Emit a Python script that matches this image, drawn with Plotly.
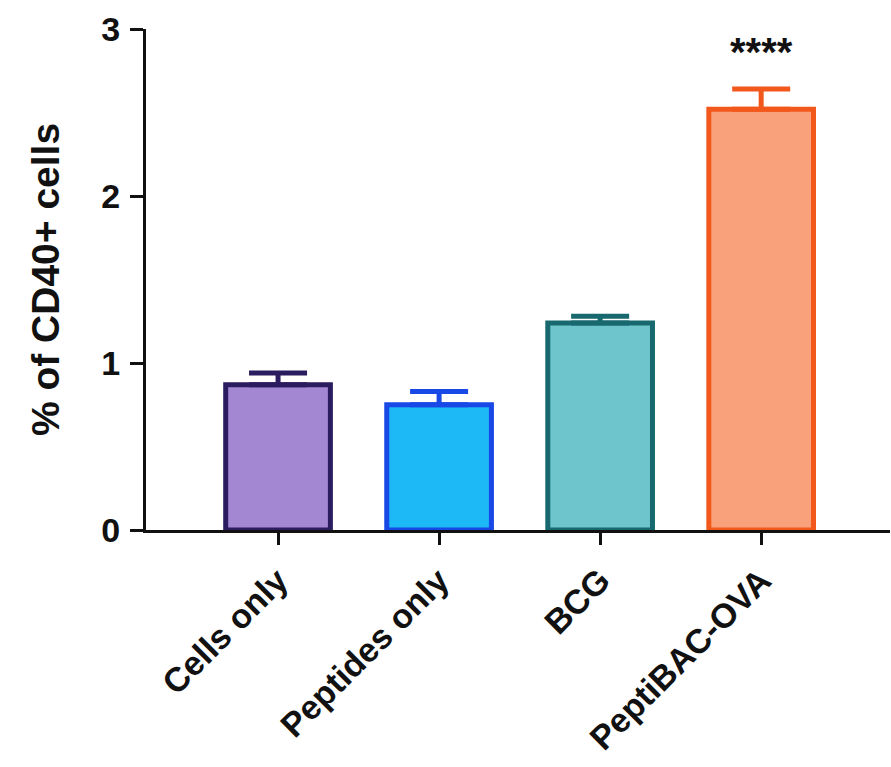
import plotly.graph_objects as go

# Group labels and measured values
groups = ["Cells only", "Peptides only", "BCG", "PeptiBAC-OVA"]
means = [0.87, 0.75, 1.24, 2.52]
sem = [0.07, 0.08, 0.04, 0.12]
fill_colors = ["#a487d3", "#1cb9f6", "#6ec6cc", "#f9a17b"]
edge_colors = ["#2b1b5f", "#1848e6", "#17686f", "#f2581b"]
significance = "****"

y_ticks = [0, 1, 2, 3]
font_family = "Arial, Liberation Sans, Helvetica, sans-serif"

fig = go.Figure()
for g, m, e, fc, ec in zip(groups, means, sem, fill_colors, edge_colors):
    fig.add_trace(go.Bar(
        x=[g], y=[m],
        width=0.65,
        marker=dict(color=fc, line=dict(color=ec, width=5)),
        error_y=dict(type="data", array=[e], arrayminus=[0], symmetric=False,
                     color=ec, thickness=5, width=29),
        showlegend=False,
    ))

fig.add_annotation(
    x=groups[-1], y=means[-1] + sem[-1] + 0.22, text=significance,
    showarrow=False, yanchor="middle",
    font=dict(family=font_family, size=40, color="#111111", weight="bold"),
)

fig.update_layout(
    width=891, height=767,
    margin=dict(l=146, r=1, t=29, b=237),
    plot_bgcolor="white", paper_bgcolor="white",
    bargap=0.35,
    font=dict(family=font_family, color="#111111"),
)
fig.update_xaxes(
    type="category", range=[-0.82, 3.80], automargin=False,
    showline=True, linecolor="#111111", linewidth=3,
    ticks="outside", ticklen=12, tickwidth=3, tickcolor="#111111",
    tickangle=-45, ticklabelstandoff=2,
    tickfont=dict(family=font_family, size=34, color="#111111", weight="bold"),
    showgrid=False, zeroline=False,
)
fig.update_yaxes(
    range=[0, 3], tickvals=y_ticks, automargin=False,
    showline=True, linecolor="#111111", linewidth=3,
    ticks="outside", ticklen=13, tickwidth=3, tickcolor="#111111",
    ticklabelstandoff=3,
    tickfont=dict(family=font_family, size=34, color="#111111", weight="bold"),
    title=dict(text="% of CD40+ cells", standoff=30,
               font=dict(family=font_family, size=39, color="#111111", weight="bold")),
    showgrid=False, zeroline=False,
)

fig.write_html("out.html")
